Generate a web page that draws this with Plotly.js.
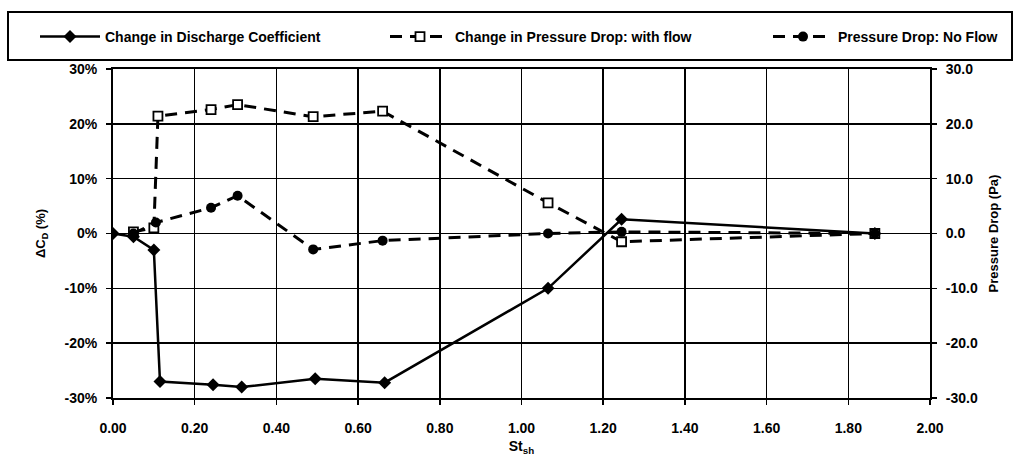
<!DOCTYPE html>
<html>
<head>
<meta charset="utf-8">
<script src="https://cdn.plot.ly/plotly-3.0.1.min.js"></script>
<style>html,body{margin:0;padding:0;background:#fff;}#chart{width:1015px;height:461px;}</style>
</head>
<body>
<div id="chart"></div>
<script>
// ---- data ----
const seriesNames = ['Change in Discharge Coefficient', 'Change in Pressure Drop: with flow', 'Pressure Drop: No Flow'];

const dischargeX = [0.00, 0.05, 0.10, 0.115, 0.245, 0.315, 0.495, 0.665, 1.065, 1.245, 1.865];
const dischargeY = [0.0, -0.6, -3.0, -27.0, -27.6, -28.0, -26.5, -27.2, -10.0, 2.6, 0.0];

const withFlowX = [0.05, 0.10, 0.11, 0.24, 0.305, 0.49, 0.66, 1.065, 1.245, 1.865];
const withFlowY = [0.3, 1.0, 21.4, 22.6, 23.5, 21.3, 22.3, 5.6, -1.5, 0.0];

const noFlowX = [0.05, 0.105, 0.24, 0.305, 0.49, 0.66, 1.065, 1.245, 1.865];
const noFlowY = [0.0, 2.0, 4.7, 6.9, -2.9, -1.3, 0.0, 0.3, 0.0];

const xTickVals = [0, 0.2, 0.4, 0.6, 0.8, 1.0, 1.2, 1.4, 1.6, 1.8, 2.0];
const xTickText = ['0.00', '0.20', '0.40', '0.60', '0.80', '1.00', '1.20', '1.40', '1.60', '1.80', '2.00'];
const yTickVals = [-30, -20, -10, 0, 10, 20, 30];
const yLeftText = ['-30%', '-20%', '-10%', '0%', '10%', '20%', '30%'];
const yRightText = ['-30.0', '-20.0', '-10.0', '0.0', '10.0', '20.0', '30.0'];

// ---- styling ----
const FONT = '"Liberation Sans", Arial, sans-serif';
const tickFont = {family: FONT, size: 14, color: '#000', weight: 'bold'};
const legFont = {family: FONT, size: 14, color: '#000', weight: 'bold'};
const titleFont = {family: FONT, size: 13, color: '#000', weight: 'bold'};

const traces = [
  {
    x: dischargeX, y: dischargeY, name: seriesNames[0], type: 'scatter', mode: 'lines+markers',
    line: {color: '#000', width: 2.5},
    marker: {symbol: 'diamond', size: 10, color: '#000'},
    legend: 'legend', yaxis: 'y'
  },
  {
    x: withFlowX, y: withFlowY, name: seriesNames[1], type: 'scatter', mode: 'lines+markers',
    line: {color: '#000', width: 3, dash: '12px,8px'},
    marker: {symbol: 'square', size: 9, color: '#fff', line: {color: '#000', width: 1.8}},
    legend: 'legend2', yaxis: 'y2'
  },
  {
    x: noFlowX, y: noFlowY, name: seriesNames[2], type: 'scatter', mode: 'lines+markers',
    line: {color: '#000', width: 3, dash: '12px,8px'},
    marker: {symbol: 'circle', size: 10, color: '#000'},
    legend: 'legend3', yaxis: 'y2'
  }
];

const L = 113, R = 930, T = 69, B = 398;
const W = 1015, H = 461;
const pw = R - L, ph = B - T;
function px(xp){ return (xp - L) / pw; }
function py(yp){ return (B - yp) / ph; }

function legendAt(xpix){
  return {
    xref: 'container', yref: 'container', x: xpix / W, y: 1 - 37 / H,
    xanchor: 'left', yanchor: 'middle', orientation: 'h',
    bgcolor: 'rgba(0,0,0,0)', borderwidth: 0, font: legFont, itemwidth: 60
  };
}

const layout = {
  width: W, height: H,
  margin: {l: L, r: W - R, t: T, b: H - B, pad: 0},
  paper_bgcolor: '#fff', plot_bgcolor: '#fff',
  font: {family: FONT, color: '#000'},
  showlegend: true,
  legend: legendAt(35),
  legend2: legendAt(385),
  legend3: legendAt(768),
  xaxis: {
    range: [0, 2], tickvals: xTickVals, ticktext: xTickText, tickfont: tickFont,
    showgrid: true, gridcolor: '#000', gridwidth: 1.5,
    showline: true, linecolor: '#000', linewidth: 2, mirror: true,
    ticks: 'outside', ticklen: 5, tickcolor: '#000', tickwidth: 1.5,
    ticklabelstandoff: 11, zeroline: false,
    title: {text: 'St<sub>sh</sub>', font: {family: FONT, size: 14, weight: 'bold', color: '#000'}, standoff: 6}
  },
  yaxis: {
    range: [-30, 30], tickvals: yTickVals, ticktext: yLeftText, tickfont: tickFont,
    showgrid: true, gridcolor: '#000', gridwidth: 1.5,
    showline: true, linecolor: '#000', linewidth: 2, mirror: true,
    ticks: 'outside', ticklen: 5, tickcolor: '#000', tickwidth: 1.5,
    ticklabelstandoff: 6, zeroline: false,
    title: {text: 'ΔC<sub>D</sub> (%)', font: titleFont, standoff: 16}
  },
  yaxis2: {
    range: [-30, 30], tickvals: yTickVals, ticktext: yRightText, tickfont: tickFont,
    overlaying: 'y', side: 'right', showgrid: false,
    showline: true, linecolor: '#000', linewidth: 2,
    ticks: 'outside', ticklen: 5, tickcolor: '#000', tickwidth: 1.5,
    ticklabelstandoff: 6, zeroline: false,
    title: {text: 'Pressure Drop (Pa)', font: titleFont, standoff: 12}
  },
  shapes: [
    {type: 'rect', xref: 'paper', yref: 'paper',
     x0: px(8), x1: px(1012), y0: py(60), y1: py(12),
     line: {color: '#000', width: 2}, fillcolor: 'rgba(0,0,0,0)', layer: 'above'}
  ]
};

Plotly.newPlot('chart', traces, layout, {displayModeBar: false, staticPlot: true});
</script>
</body>
</html>
